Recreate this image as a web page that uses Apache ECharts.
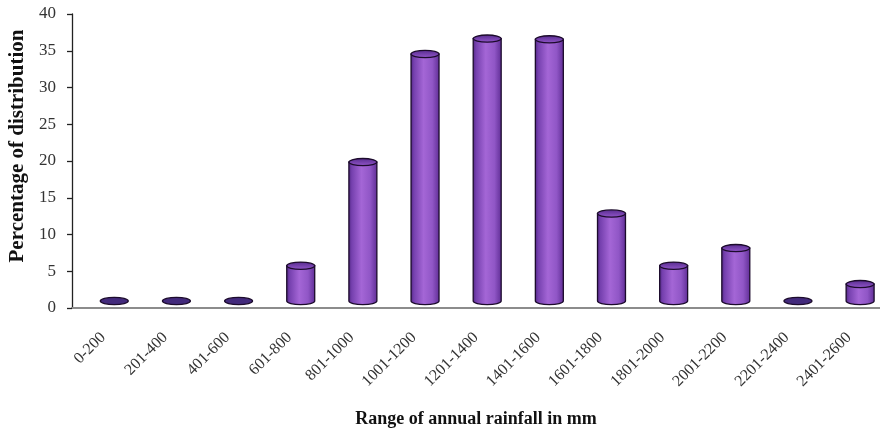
<!DOCTYPE html>
<html>
<head>
<meta charset="utf-8">
<style>
  html, body { margin: 0; padding: 0; background: #ffffff; }
  #chart { width: 880px; height: 433px; }
</style>
<script src="https://cdn.jsdelivr.net/npm/echarts@6/dist/echarts.min.js"></script>
</head>
<body>
<div id="chart"></div>
<script>
// Rainfall ranges (mm) and share of stations in each range (%)
const categories = ['0-200', '201-400', '401-600', '601-800', '801-1000', '1001-1200',
  '1201-1400', '1401-1600', '1601-1800', '1801-2000', '2001-2200', '2201-2400', '2401-2600'];
const percentages = [0, 0, 0, 4.8, 18.9, 33.6, 35.7, 35.6, 11.9, 4.8, 7.2, 0, 2.3];
const yTicks = { min: 0, max: 40, step: 5 };

const serif = 'Liberation Serif, Times New Roman, serif';

// Draws one cylinder: a shaded body with a rounded base and an elliptical top
function cylinder(params, api) {
  const idx = api.value(0);
  const val = api.value(1);
  const base = api.coord([idx, 0]);
  const top = api.coord([idx, val]);
  const band = api.size([1, 0])[0];
  const rx = band * 0.225;
  const ry = 3.6;
  const dx = band * 0.18;   // oblique depth shift
  const dy = -7;
  const cx = base[0] + dx;
  const yb = base[1] + dy;
  const yt = top[1] + dy;
  const x0 = cx - rx, x1 = cx + rx;
  const children = [];
  if (yb - yt > 0.5) {
    children.push({
      type: 'path',
      shape: {
        pathData: `M ${x0} ${yt} L ${x0} ${yb} A ${rx} ${ry} 0 0 0 ${x1} ${yb} L ${x1} ${yt} Z`
      },
      style: {
        fill: new echarts.graphic.LinearGradient(0, 0, 1, 0, [
          { offset: 0, color: '#4e2480' },
          { offset: 0.12, color: '#7540ae' },
          { offset: 0.45, color: '#a466d6' },
          { offset: 0.75, color: '#9056c6' },
          { offset: 1, color: '#5e2c94' }
        ]),
        stroke: '#1c0b2c',
        lineWidth: 1.3
      }
    });
  }
  const flat = yb - yt <= 0.5;
  children.push({
    type: 'path',
    shape: {
      pathData: `M ${x0} ${yt} A ${rx} ${ry} 0 1 0 ${x1} ${yt} A ${rx} ${ry} 0 1 0 ${x0} ${yt} Z`
    },
    style: {
      fill: flat ? '#432a7c' : new echarts.graphic.LinearGradient(0, 0, 0, 1, [
        { offset: 0, color: '#552a8c' },
        { offset: 1, color: '#9558cc' }
      ]),
      stroke: '#1c0b2c',
      lineWidth: 1.3
    }
  });
  return { type: 'group', children };
}

const chart = echarts.init(document.getElementById('chart'), null, { renderer: 'canvas' });
chart.setOption({
  animation: false,
  backgroundColor: '#ffffff',
  grid: { left: 72, right: 0, top: 14, bottom: 125, containLabel: false, outerBoundsMode: 'none' },
  xAxis: {
    type: 'category',
    data: categories,
    boundaryGap: true,
    name: 'Range of annual rainfall in mm',
    nameLocation: 'middle',
    nameGap: 102,
    nameMoveOverlap: false,
    nameTextStyle: { fontFamily: serif, fontWeight: 'bold', fontSize: 18, color: '#111' },
    axisLine: { lineStyle: { color: '#8c8c8c', width: 2 } },
    axisTick: { show: false },
    axisLabel: {
      rotate: 45,
      margin: 27,
      interval: 0,
      fontFamily: serif,
      fontSize: 16,
      color: '#333'
    }
  },
  yAxis: {
    type: 'value',
    min: yTicks.min,
    max: yTicks.max,
    interval: yTicks.step,
    name: 'Percentage of distribution',
    nameLocation: 'middle',
    nameGap: 44,
    nameMoveOverlap: false,
    nameTextStyle: { fontFamily: serif, fontWeight: 'bold', fontSize: 21, color: '#111', padding: [0, 0, 0, 30] },
    axisLine: { show: true, lineStyle: { color: '#222', width: 1.3 } },
    axisTick: { show: true, inside: false, length: 5, lineStyle: { color: '#222', width: 1.3 } },
    axisLabel: { margin: 16, fontFamily: serif, fontSize: 17, color: '#333' },
    splitLine: { show: false }
  },
  series: [{
    type: 'custom',
    renderItem: cylinder,
    encode: { x: 0, y: 1 },
    data: percentages.map((v, i) => [i, v]),
    clip: false
  }]
});
</script>
</body>
</html>
